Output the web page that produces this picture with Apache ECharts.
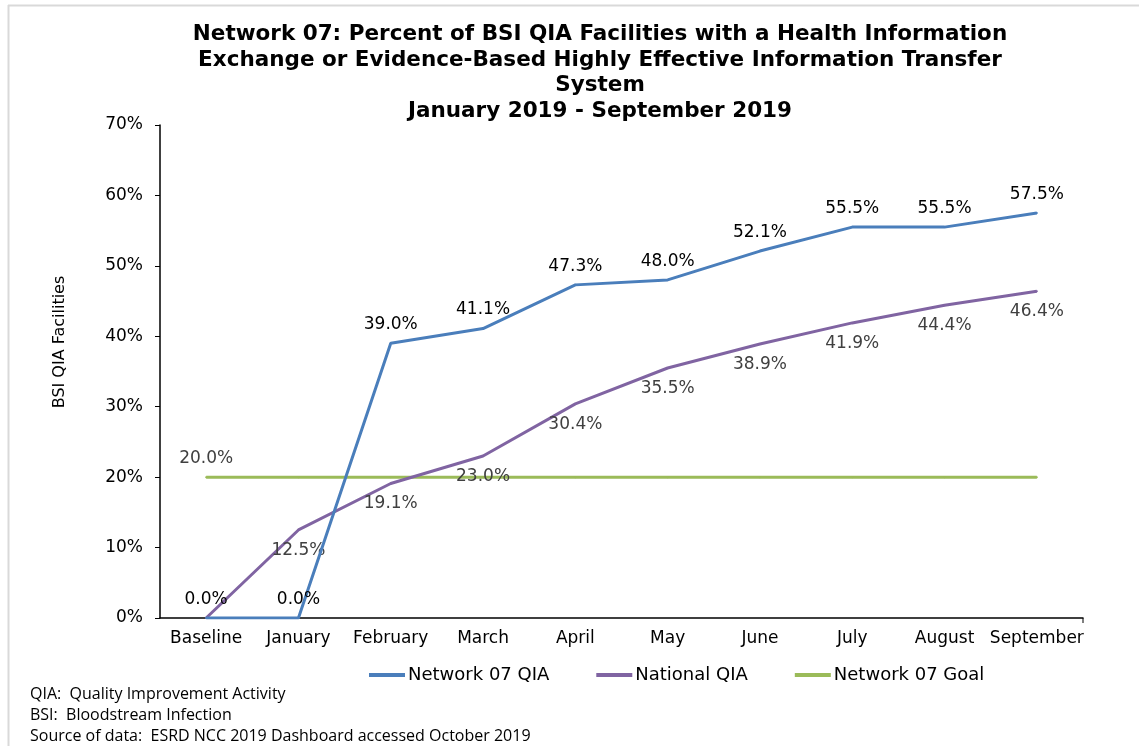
<!DOCTYPE html>
<html>
<head>
    <meta charset="utf-8" />
    <title>Network 07 BSI QIA</title>
    <script src="https://cdn.jsdelivr.net/npm/echarts@6/dist/echarts.min.js"></script>
    <style>
        html, body { margin: 0; padding: 0; background: #fff; }
        #container { width: 1139px; height: 746px; }
    </style>
</head>
<body>
<div id="container"></div>

<script type="text/javascript">

    var months = ['Baseline', 'January', 'February', 'March', 'April', 'May', 'June', 'July', 'August', 'September'];
    var network07 = [0.0, 0.0, 39.0, 41.1, 47.3, 48.0, 52.1, 55.5, 55.5, 57.5];
    var national = [0.0, 12.5, 19.1, 23.0, 30.4, 35.5, 38.9, 41.9, 44.4, 46.4];
    var goal = [20, 20, 20, 20, 20, 20, 20, 20, 20, 20];
    var yTicks = [0, 10, 20, 30, 40, 50, 60, 70];

    var bodyFont = '"DejaVu Sans", "Liberation Sans", Arial, sans-serif';

    var chart = echarts.init(document.getElementById('container'));

    function pct(p) {
        return p.value.toFixed(1) + '%';
    }

    // national baseline label is hidden (sits under the axis)
    var nationalData = national.map(function (v, i) {
        return i === 0 ? { value: v, label: { show: false } } : v;
    });
    // goal line only labelled at first point
    var goalData = goal.map(function (v, i) {
        return i === 0 ? { value: v, label: { show: true } } : v;
    });

    chart.setOption({
        animation: false,
        textStyle: { fontFamily: bodyFont },
        title: {
            text: 'Network 07: Percent of BSI QIA Facilities with a Health Information\nExchange or Evidence-Based Highly Effective Information Transfer\nSystem\nJanuary 2019 - September 2019',
            left: 595,
            textAlign: 'center',
            top: 17,
            textStyle: {
                fontFamily: bodyFont,
                fontWeight: 'bold',
                fontSize: 21.5,
                lineHeight: 25.5,
                color: '#000'
            }
        },
        legend: {
            data: ['Network 07 QIA', 'National QIA', 'Network 07 Goal'],
            left: 364,
            top: 661,
            itemWidth: 36,
            itemHeight: 4,
            itemGap: 47,
            icon: 'rect',
            textStyle: { fontFamily: bodyFont, fontSize: 18, color: '#000', padding: [0, 0, 0, -2] }
        },
        grid: {
            left: 160,
            right: 56,
            top: 125,
            bottom: 128,
            containLabel: false
        },
        xAxis: {
            type: 'category',
            data: months,
            boundaryGap: true,
            axisLine: { lineStyle: { color: '#000', width: 1.5 } },
            axisTick: { alignWithLabel: true, length: 5, lineStyle: { color: '#000' } },
            axisLabel: { fontSize: 17, color: '#000', margin: 12, interval: 0 }
        },
        yAxis: {
            type: 'value',
            min: yTicks[0],
            max: yTicks[yTicks.length - 1],
            interval: 10,
            axisLine: { show: true, lineStyle: { color: '#000', width: 1.5 } },
            axisTick: { show: true, length: 5, inside: false, lineStyle: { color: '#000' } },
            splitLine: { show: false },
            axisLabel: {
                fontSize: 17,
                color: '#000',
                margin: 17,
                formatter: function (v) { return v + '%'; }
            }
        },
        series: [
            {
                name: 'Network 07 QIA',
                type: 'line',
                data: network07,
                symbol: 'circle',
                symbolSize: 2,
                showSymbol: true,
                z: 3,
                lineStyle: { color: '#4A7EBB', width: 3 },
                itemStyle: { color: '#4A7EBB' },
                label: {
                    show: true,
                    position: 'top',
                    distance: 9,
                    fontSize: 17,
                    color: '#000',
                    formatter: pct
                }
            },
            {
                name: 'National QIA',
                type: 'line',
                data: nationalData,
                symbol: 'circle',
                symbolSize: 2,
                showSymbol: true,
                z: 2,
                lineStyle: { color: '#8064A2', width: 3 },
                itemStyle: { color: '#8064A2' },
                label: {
                    show: true,
                    position: 'bottom',
                    distance: 11,
                    fontSize: 17,
                    color: '#404040',
                    formatter: pct
                }
            },
            {
                name: 'Network 07 Goal',
                type: 'line',
                data: goalData,
                symbol: 'circle',
                symbolSize: 2,
                showSymbol: true,
                z: 1,
                lineStyle: { color: '#9BBB59', width: 3 },
                itemStyle: { color: '#9BBB59' },
                label: {
                    show: false,
                    position: 'top',
                    distance: 9,
                    fontSize: 17,
                    color: '#404040',
                    formatter: pct
                }
            }
        ],
        graphic: [
            // page frame
            { type: 'line', shape: { x1: 8, y1: 5.5, x2: 1139, y2: 5.5 }, style: { stroke: '#d9d9d9', lineWidth: 2 } },
            { type: 'line', shape: { x1: 8.5, y1: 5, x2: 8.5, y2: 746 }, style: { stroke: '#d9d9d9', lineWidth: 2 } },
            // end tick on the category axis
            { type: 'line', shape: { x1: 1083, y1: 618, x2: 1083, y2: 623 }, style: { stroke: '#000', lineWidth: 1 } },
            {
                type: 'text',
                x: 60,
                y: 342,
                rotation: Math.PI / 2,
                style: {
                    text: 'BSI QIA Facilities',
                    font: '16px "DejaVu Sans", sans-serif',
                    align: 'center',
                    verticalAlign: 'middle',
                    fill: '#000'
                }
            },
            {
                type: 'text',
                left: 30,
                top: 684,
                style: {
                    text: 'QIA:  Quality Improvement Activity\nBSI:  Bloodstream Infection\nSource of data:  ESRD NCC 2019 Dashboard accessed October 2019',
                    font: '16px "Open Sans", Lato, sans-serif',
                    lineHeight: 21,
                    fill: '#000'
                }
            }
        ]
    });

</script>
</body>
</html>
